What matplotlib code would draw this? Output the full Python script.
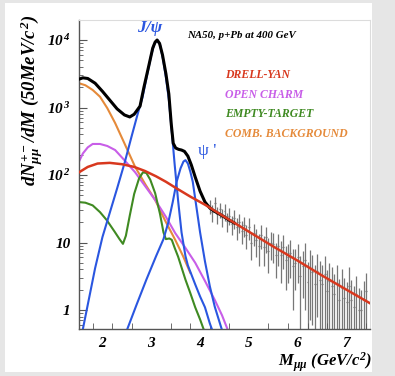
import numpy as np
import matplotlib
matplotlib.use("Agg")
import matplotlib.pyplot as plt
from matplotlib.patches import Rectangle
from matplotlib.ticker import FixedLocator, NullFormatter, LogLocator

# --- fonts: Times-like bold italic everywhere ---
plt.rcParams['font.family'] = ['Liberation Serif', 'DejaVu Serif']
plt.rcParams['mathtext.fontset'] = 'custom'
plt.rcParams['mathtext.rm'] = 'Liberation Serif:italic:bold'
plt.rcParams['mathtext.it'] = 'Liberation Serif:italic:bold'
plt.rcParams['mathtext.bf'] = 'Liberation Serif:italic:bold'

# --- curves (mass in GeV/c2, log10 of counts) ---
total_m = [1.52, 1.6, 1.7, 1.85, 2.0, 2.15, 2.3, 2.45, 2.56, 2.65, 2.77, 2.85, 2.95, 3.03,
           3.08, 3.12, 3.17, 3.23, 3.3, 3.36, 3.41, 3.45, 3.5, 3.56, 3.62, 3.68, 3.75, 3.82,
           3.9, 4.0, 4.1, 4.2, 4.3, 4.45, 4.6, 4.7]
total_log = [3.42, 3.44, 3.43, 3.36, 3.24, 3.11, 2.98, 2.89, 2.86, 2.9, 3.02, 3.3, 3.62, 3.88,
             3.97, 4.0, 3.95, 3.78, 3.5, 3.2, 2.75, 2.47, 2.4, 2.38, 2.37, 2.35, 2.28, 2.15,
             1.97, 1.76, 1.6, 1.51, 1.46, 1.40, 1.33, 1.29]

jpsi_m = [1.6, 1.7, 1.85, 2.0, 2.15, 2.3, 2.45, 2.6, 2.72, 2.82, 2.92, 3.0, 3.06, 3.12,
          3.18, 3.24, 3.3, 3.36, 3.42, 3.48, 3.55, 3.62, 3.7, 3.75, 3.9, 4.0, 4.1, 4.2, 4.25]
jpsi_log = [-0.28, 0.08, 0.62, 1.08, 1.44, 1.8, 2.17, 2.58, 2.9, 3.15, 3.5, 3.78, 3.94, 4.0,
            3.93, 3.72, 3.45, 3.12, 2.65, 2.15, 1.62, 1.15, 0.8, 0.66, 0.38, 0.2, 0.04, -0.2, -0.3]

psip_m = [2.5, 2.7, 2.9, 3.1, 3.25, 3.35, 3.44, 3.52, 3.6, 3.66, 3.7, 3.75, 3.8, 3.85,
          3.92, 4.0, 4.1, 4.2, 4.3, 4.45]
psip_log = [-0.3, 0.08, 0.45, 0.8, 1.05, 1.3, 1.6, 1.9, 2.1, 2.2, 2.22, 2.17, 2.05, 1.9,
            1.55, 1.15, 0.72, 0.35, 0.05, -0.3]

dy_m = [1.52, 1.7, 1.9, 2.15, 2.4, 2.65, 2.87, 3.1, 3.3, 3.5, 3.8, 4.1, 4.5, 5.0, 5.5,
        6.0, 6.5, 7.0, 7.48]
dy_log = [2.04, 2.12, 2.17, 2.18, 2.16, 2.12, 2.06, 1.98, 1.9, 1.81, 1.68, 1.56, 1.38, 1.16,
          0.94, 0.73, 0.51, 0.30, 0.10]

comb_m = [1.52, 1.65, 1.8, 1.95, 2.1, 2.26, 2.45, 2.67, 2.88, 3.08, 3.28, 3.49, 3.65, 3.8]
comb_log = [3.36, 3.33, 3.26, 3.16, 2.99, 2.77, 2.47, 2.12, 1.86, 1.63, 1.33, 1.04, 0.8, 0.55]

charm_m = [1.52, 1.6, 1.7, 1.8, 1.95, 2.1, 2.26, 2.45, 2.67, 2.87, 3.08, 3.3, 3.49, 3.7,
           3.9, 4.1, 4.3, 4.45, 4.57]
charm_log = [2.2, 2.32, 2.41, 2.46, 2.46, 2.43, 2.37, 2.22, 2.04, 1.84, 1.63, 1.38, 1.14, 0.92,
             0.70, 0.43, 0.15, -0.08, -0.3]

empty_m = [1.5, 1.65, 1.8, 1.95, 2.09, 2.25, 2.35, 2.42, 2.48, 2.56, 2.65, 2.75, 2.83, 2.9,
           2.98, 3.08, 3.18, 3.25, 3.3, 3.37, 3.42, 3.48, 3.55, 3.7, 3.8, 3.9, 4.0, 4.08]
empty_log = [1.60, 1.59, 1.55, 1.45, 1.33, 1.16, 1.05, 0.98, 1.1, 1.4, 1.72, 1.95, 2.04, 2.03,
             1.93, 1.73, 1.42, 1.15, 1.05, 1.06, 1.04, 0.92, 0.79, 0.45, 0.25, 0.04, -0.14, -0.3]

# --- high-mass data points (50 MeV bins) ---
data_m = np.round(np.arange(4.20, 7.41, 0.05), 2)
data_n = [34, 28, 38, 26, 31, 24, 29, 21, 25, 19, 23, 17, 20, 15, 18, 13, 17, 10, 14, 11,
          9, 13, 8.5, 12, 7.5, 10, 9.5, 6.5, 9, 6.5, 8.5, 5.5, 6, 7, 4.5, 5, 6, 3.2, 4.5, 5.5,
          2.6, 4.2, 3.6, 2.4, 3.8, 2.8, 2.4, 3.4, 1.9, 2.7, 2.3, 1.7, 2.5, 1.4, 2.1, 1.5, 1.3, 2.3,
          1.4, 1.1, 1.7, 1.0, 1.0, 1.4, 1.9]
data_err = [8, 8, 9, 7.5, 8, 7, 8, 6.5, 7, 6, 7, 6, 6, 5.5, 6, 5, 6, 4.5, 5, 5,
            4.5, 5, 4, 5, 4, 4.5, 4.5, 3.5, 4.5, 4, 4.5, 3.5, 3.5, 4, 3.5, 3, 3.5, 3.2, 3, 4.5,
            2.6, 3.5, 3, 2.2, 3, 2.5, 2.3, 3, 2, 2.3, 2, 1.7, 2.2, 1.5, 2, 1.5, 1.3, 2,
            1.4, 1.2, 1.5, 1.1, 1.0, 1.3, 1.6]

legend_labels = ['DRELL-YAN', 'OPEN CHARM', 'EMPTY-TARGET', 'COMB. BACKGROUND']
legend_colors = ['#d8381e', '#c85ee8', '#3f8a22', '#e58a3a']

x_labels = ['2', '3', '4', '5', '6', '7']
y_labels = ['1', '10', r'$10^{\,2}$', r'$10^{\,3}$', r'$10^{\,4}$']

W, H = 395, 376
fig = plt.figure(figsize=(W / 100, H / 100), dpi=100, facecolor='#e6e6e6')
# white inner panel, drawn behind the axes
fig.patches.append(Rectangle((5 / W, 1 - 372 / H), 367 / W, 369 / H,
                             transform=fig.transFigure, facecolor='white',
                             edgecolor='none', zorder=-10))

ax = fig.add_axes([79 / W, 1 - 329 / H, 291 / W, 309 / H])
ax.set_zorder(5)
ax.set_facecolor('none')
ax.set_yscale('log')
ax.set_xlim(1.52, 7.48)
ax.set_ylim(0.523, 19800)

def p10(vals):
    return 10 ** np.array(vals)

blue = '#2a56e0'
ax.errorbar(data_m, data_n, yerr=data_err, xerr=0.02, fmt='none',
            ecolor='#777777', elinewidth=0.9, zorder=1)
ax.plot(comb_m, p10(comb_log), color=legend_colors[3], lw=1.5, zorder=2)
ax.plot(charm_m, p10(charm_log), color=legend_colors[1], lw=1.5, zorder=2)
ax.plot(empty_m, p10(empty_log), color=legend_colors[2], lw=1.5, zorder=2)
ax.plot(jpsi_m, p10(jpsi_log), color=blue, lw=1.5, zorder=3)
ax.plot(psip_m, p10(psip_log), color=blue, lw=1.5, zorder=3)
ax.plot(total_m, p10(total_log), color='black', lw=2.2, zorder=4)
ax.plot(dy_m, p10(dy_log), color=legend_colors[0], lw=1.8, zorder=5)

# axes styling
for side in ['top', 'right']:
    ax.spines[side].set_color('#dcdcdc')
    ax.spines[side].set_linewidth(0.8)
for side in ['left', 'bottom']:
    ax.spines[side].set_color('#555555')
    ax.spines[side].set_linewidth(1.0)

ax.xaxis.set_major_locator(FixedLocator([2, 3, 4, 5, 6, 7]))
ax.set_xticklabels(x_labels)
ax.xaxis.set_minor_locator(FixedLocator(np.arange(1.8, 7.5, 0.4)))
ax.tick_params(axis='x', which='major', direction='in', length=0, pad=6,
               labelsize=11)
ax.tick_params(axis='x', which='minor', direction='in', length=4, color='#555555')

ax.yaxis.set_major_locator(FixedLocator([1, 10, 100, 1000, 10000]))
ax.set_yticklabels(y_labels)
ax.yaxis.set_minor_locator(LogLocator(base=10, subs=np.arange(2, 10)))
ax.yaxis.set_minor_formatter(NullFormatter())
ax.tick_params(axis='y', which='major', direction='in', length=6, color='#555555',
               pad=6, labelsize=11)
ax.tick_params(axis='y', which='minor', direction='in', length=3, color='#555555')
for lab in ax.get_xticklabels() + ax.get_yticklabels():
    lab.set_fontweight('bold')
    lab.set_fontstyle('italic')

# texts
def ftext(px, py, s, **kw):
    fig.text(px / W, 1 - py / H, s, **kw)

ftext(32, 100, r'$dN^{+-}_{\mu\mu}/dM\ (50MeV/c^2)$', rotation=90,
      ha='center', va='center', fontsize=13.5)
ftext(372, 362, r'$M_{\mu\mu}\ (GeV/c^2)$', ha='right', va='center', fontsize=12)
ftext(187, 36, 'NA50, p+Pb at 400 GeV', ha='left', va='center', fontsize=7.8,
      fontweight='bold', fontstyle='italic')
ftext(150, 28, 'J/ψ', ha='center', va='center', fontsize=12.5, color=blue,
      fontstyle='italic', fontweight='bold')
ftext(198, 151, "ψ '", ha='left', va='center', fontsize=12.5, color=blue)
for i, (lab, col) in enumerate(zip(legend_labels, legend_colors)):
    ftext(225, 75 + i * 19.5, lab, ha='left', va='center', fontsize=8.5,
          fontweight='bold', fontstyle='italic', color=col)

fig.savefig('out.png', dpi=100, facecolor=fig.get_facecolor())
